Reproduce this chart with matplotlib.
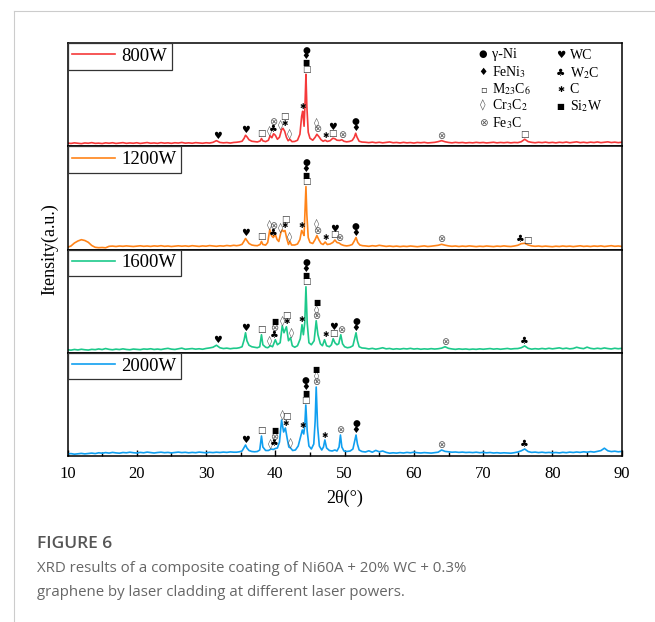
import numpy as np
import matplotlib
matplotlib.use('Agg')
import matplotlib.pyplot as plt
from matplotlib.ticker import MultipleLocator

plt.rcParams['font.family'] = ['Liberation Serif', 'DejaVu Sans']
plt.rcParams['mathtext.fontset'] = 'stix'

labels = ['800W', '1200W', '1600W', '2000W']
colors = ['#f5393a', '#ff8419', '#1dc98b', '#109ff0']

# intensities, 10..34 deg every 0.5 deg
low_800 = [3.2, 2.8, 3.4, 3.0, 2.6, 3.3, 3.0, 3.6, 2.9, 3.1, 2.7, 3.4, 3.0, 3.5, 2.8,
           3.2, 3.6, 2.9, 3.3, 3.0, 3.5, 2.8, 3.2, 3.7, 3.0, 3.3, 2.9, 3.6, 3.1, 3.4,
           2.9, 3.5, 3.2, 3.8, 3.1, 3.4, 3.0, 3.6, 3.3, 3.0, 3.5, 3.2, 3.9, 5.6, 3.8,
           3.4, 3.7, 3.2, 3.8]
low_1200 = [2.2, 3.5, 6.5, 8.5, 9.8, 9.0, 7.2, 4.0, 2.2, 1.8, 2.0, 1.7, 3.2, 3.4, 3.0,
            3.5, 3.2, 3.6, 3.3, 3.0, 3.4, 3.7, 3.2, 3.5, 3.1, 3.6, 3.3, 3.8, 3.2, 3.5,
            3.0, 3.4, 3.7, 3.3, 3.6, 3.2, 3.8, 3.4, 3.1, 3.6, 3.3, 3.9, 3.5, 3.2, 3.7,
            3.4, 4.0, 3.6, 4.2]
low_1600 = [3.0, 2.6, 3.3, 2.8, 3.5, 3.0, 2.7, 3.4, 3.1, 3.8, 3.2, 4.2, 3.4, 3.0, 3.6,
            3.2, 3.9, 3.3, 3.0, 3.7, 3.4, 3.1, 3.8, 3.5, 4.0, 3.3, 3.7, 3.2, 3.9, 4.4,
            3.6, 3.3, 4.0, 4.6, 3.5, 3.8, 4.2, 3.6, 4.0, 3.5, 4.3, 4.8, 5.5, 7.5, 5.0,
            4.2, 4.6, 4.0, 4.5]
low_2000 = [2.0, 2.4, 1.8, 2.2, 2.6, 2.1, 2.5, 2.9, 2.4, 3.2, 2.8, 3.4, 2.9, 3.6, 3.1,
            2.8, 3.5, 3.2, 3.8, 3.3, 3.0, 3.6, 3.2, 3.9, 3.4, 3.0, 3.5, 3.8, 3.3, 3.6,
            3.1, 3.5, 3.9, 3.4, 3.7, 3.2, 3.6, 3.3, 3.9, 3.5, 3.2, 3.7, 3.4, 3.8, 3.5,
            3.9, 3.6, 4.1, 3.8]

# (2theta, intensity) in the peak region
peaks_800 = [(34.4, 4.0), (34.8, 4.4), (35.2, 5.0), (35.5, 8.0), (35.7, 11.0), (35.9, 9.5),
             (36.2, 6.5), (36.6, 5.0), (37.0, 4.6), (37.4, 4.3), (37.8, 5.2), (38.0, 7.7),
             (38.2, 5.4), (38.6, 4.6), (39.0, 6.0), (39.25, 10.5), (39.5, 8.5), (39.75, 12.5),
             (40.0, 11.0), (40.3, 7.0), (40.6, 9.0), (40.9, 16.5), (41.1, 18.0), (41.35, 15.0),
             (41.6, 9.0), (41.85, 5.5), (42.1, 7.0), (42.4, 4.6), (42.8, 4.8), (43.2, 6.0),
             (43.55, 12.0), (43.8, 30.0), (43.95, 35.0), (44.15, 20.0), (44.3, 45.0),
             (44.42, 72.0), (44.55, 40.0), (44.75, 14.0), (45.0, 8.0), (45.4, 6.0),
             (45.75, 9.0), (46.0, 12.0), (46.3, 9.5), (46.6, 6.5), (46.9, 5.0), (47.2, 6.0),
             (47.5, 4.8), (47.9, 5.5), (48.3, 8.0), (48.6, 7.5), (48.9, 6.0), (49.3, 5.8),
             (49.6, 6.5), (49.9, 5.0), (50.3, 4.4), (50.7, 4.8), (51.1, 5.8), (51.4, 9.0),
             (51.6, 13.0), (51.8, 9.0), (52.1, 5.0), (52.5, 4.2)]
peaks_1200 = [(34.4, 3.8), (34.8, 4.2), (35.2, 5.2), (35.5, 8.5), (35.7, 11.0), (35.9, 9.0),
              (36.2, 6.0), (36.6, 4.5), (37.0, 4.0), (37.4, 3.8), (37.8, 5.0), (38.0, 8.0),
              (38.2, 5.0), (38.6, 4.4), (38.9, 7.0), (39.2, 20.0), (39.45, 14.0), (39.7, 12.0),
              (40.0, 15.0), (40.25, 10.0), (40.5, 8.0), (40.8, 17.0), (41.0, 19.5), (41.2, 18.0),
              (41.4, 19.0), (41.65, 11.0), (41.9, 5.0), (42.1, 8.0), (42.35, 4.5), (42.8, 4.5),
              (43.2, 5.5), (43.55, 10.0), (43.8, 19.0), (43.95, 17.0), (44.15, 14.0),
              (44.3, 40.0), (44.42, 63.0), (44.55, 35.0), (44.75, 12.0), (45.0, 7.0),
              (45.4, 6.0), (45.75, 10.0), (46.0, 14.0), (46.3, 9.5), (46.6, 6.0), (46.9, 5.0),
              (47.2, 7.5), (47.5, 5.0), (47.9, 5.5), (48.3, 7.0), (48.6, 9.5), (48.9, 7.0),
              (49.2, 6.5), (49.5, 5.0), (49.9, 4.0), (50.3, 3.6), (50.7, 4.0), (51.1, 5.0),
              (51.4, 8.5), (51.65, 12.0), (51.9, 7.0), (52.2, 4.5), (52.6, 3.8)]
peaks_1600 = [(34.4, 4.5), (34.8, 5.0), (35.2, 6.0), (35.5, 13.0), (35.7, 20.0), (35.9, 12.0),
              (36.2, 7.5), (36.6, 6.0), (37.0, 5.5), (37.4, 5.0), (37.75, 6.0), (38.0, 18.0),
              (38.2, 8.0), (38.6, 5.5), (38.9, 5.0), (39.3, 7.0), (39.6, 6.0), (40.0, 13.0),
              (40.3, 8.0), (40.7, 10.0), (41.0, 27.0), (41.25, 20.0), (41.6, 26.0), (41.9, 12.0),
              (42.2, 15.0), (42.45, 7.0), (42.8, 5.5), (43.2, 7.0), (43.6, 14.0), (43.85, 28.0),
              (44.05, 18.0), (44.25, 30.0), (44.42, 66.0), (44.6, 30.0), (44.85, 10.0),
              (45.2, 8.0), (45.6, 12.0), (45.9, 32.0), (46.15, 18.0), (46.5, 9.0), (46.8, 7.0),
              (47.1, 13.0), (47.4, 7.0), (47.8, 6.0), (48.1, 8.0), (48.35, 14.0), (48.6, 10.0),
              (48.9, 8.0), (49.15, 9.0), (49.45, 18.0), (49.7, 9.0), (50.0, 6.0), (50.4, 5.0),
              (50.8, 5.5), (51.2, 7.0), (51.45, 14.0), (51.65, 20.0), (51.85, 12.0),
              (52.1, 6.0), (52.5, 4.8)]
peaks_2000 = [(34.4, 3.8), (34.8, 4.2), (35.2, 5.0), (35.5, 8.5), (35.7, 11.0), (35.9, 8.0),
              (36.2, 5.5), (36.6, 4.5), (37.0, 4.2), (37.4, 4.5), (37.75, 6.0), (38.0, 20.0),
              (38.2, 9.0), (38.6, 5.5), (39.0, 5.5), (39.4, 7.0), (39.7, 6.5), (40.0, 7.5),
              (40.3, 8.0), (40.6, 14.0), (40.9, 36.0), (41.2, 24.0), (41.45, 28.0), (41.7, 18.0),
              (41.95, 9.0), (42.2, 8.0), (42.5, 5.5), (42.9, 6.0), (43.3, 10.0), (43.6, 18.0),
              (43.9, 26.0), (44.1, 22.0), (44.25, 30.0), (44.4, 51.0), (44.6, 25.0),
              (44.85, 10.0), (45.2, 7.0), (45.55, 12.0), (45.75, 35.0), (45.9, 69.0),
              (46.1, 30.0), (46.35, 10.0), (46.7, 6.0), (46.95, 9.0), (47.15, 16.0), (47.4, 8.0),
              (47.8, 5.5), (48.2, 5.0), (48.6, 6.0), (48.9, 5.0), (49.2, 9.0), (49.4, 21.0),
              (49.6, 9.0), (49.9, 5.0), (50.3, 4.5), (50.8, 5.0), (51.2, 7.0), (51.45, 15.0),
              (51.65, 21.0), (51.85, 12.0), (52.1, 6.0), (52.5, 4.5)]

# intensities, 53..90 deg every 0.5 deg
high_800 = [4.0, 3.6, 4.1, 3.5, 4.0, 3.4, 3.9, 4.3, 3.5, 3.8, 3.3, 3.9, 3.4, 3.7, 3.2,
            3.8, 3.5, 3.9, 3.3, 3.6, 3.9, 4.6, 5.6, 4.5, 3.8, 3.4, 3.9, 3.5, 3.8, 3.3,
            3.7, 3.4, 3.9, 3.5, 3.8, 3.3, 3.6, 4.0, 3.4, 3.8, 3.5, 3.9, 3.4, 3.8, 3.6,
            4.5, 7.0, 4.6, 3.9, 3.5, 4.0, 3.6, 4.1, 3.5, 3.9, 3.4, 4.0, 3.6, 4.2, 3.5,
            3.9, 4.4, 3.6, 4.0, 3.5, 4.1, 3.7, 4.3, 3.6, 4.0, 4.4, 3.7, 4.1, 3.6, 4.0]
high_1200 = [3.6, 3.2, 3.8, 3.4, 4.2, 3.6, 3.1, 3.5, 3.0, 3.4, 2.9, 3.3, 3.0, 3.5, 3.1,
             2.8, 3.2, 3.6, 3.0, 3.3, 3.8, 4.2, 5.2, 4.3, 3.6, 3.2, 3.5, 3.0, 3.4, 3.1,
             3.6, 3.2, 2.9, 3.3, 3.0, 3.5, 3.2, 2.9, 3.4, 3.1, 3.6, 3.2, 3.0, 3.5, 4.2,
             5.8, 6.2, 4.5, 3.6, 3.2, 3.5, 3.0, 3.4, 3.1, 2.8, 3.3, 3.0, 3.5, 3.1, 3.4,
             2.9, 3.3, 3.7, 3.1, 3.4, 3.0, 3.5, 3.2, 3.6, 3.0, 3.4, 3.8, 3.2, 3.5, 3.1]
high_1600 = [4.5, 3.8, 4.4, 3.6, 4.2, 5.0, 3.9, 4.3, 3.5, 4.0, 3.6, 4.2, 3.8, 4.4, 3.7,
             4.1, 3.5, 3.9, 3.6, 4.1, 3.7, 4.0, 4.6, 6.0, 4.4, 3.8, 3.4, 3.9, 3.5, 3.8,
             3.3, 3.7, 3.4, 3.9, 3.5, 3.8, 4.2, 3.6, 4.0, 3.5, 3.9, 4.3, 3.7, 4.1, 4.2,
             5.0, 6.8, 4.4, 3.6, 4.1, 3.7, 4.3, 3.8, 4.5, 3.9, 4.4, 4.9, 4.0, 4.6, 3.9,
             4.3, 5.5, 4.6, 4.1, 5.6, 4.4, 3.9, 4.5, 4.0, 4.8, 4.2, 3.8, 4.5, 4.0, 4.4]
high_2000 = [4.0, 5.2, 3.8, 5.6, 4.2, 5.0, 3.6, 2.8, 3.2, 2.9, 3.4, 3.0, 3.6, 3.2, 3.8,
             3.3, 3.0, 3.4, 3.1, 2.9, 3.3, 3.8, 6.0, 4.6, 4.2, 3.8, 4.0, 3.6, 3.9, 3.5,
             3.7, 3.4, 3.8, 3.3, 3.6, 3.2, 3.5, 3.0, 3.3, 2.9, 3.2, 3.0, 2.8, 3.3, 4.0,
             5.2, 7.0, 4.4, 3.6, 3.9, 3.4, 3.8, 3.3, 3.6, 3.2, 3.5, 3.1, 3.7, 3.3, 3.9,
             3.5, 4.0, 3.6, 4.2, 3.8, 4.4, 3.9, 4.6, 5.4, 7.8, 5.2, 4.4, 4.8, 4.2, 4.6]

# phase marks above peaks, listed bottom -> top
# o gamma-Ni, d FeNi3, s M23C6, z Cr3C2, x Fe3C, h WC, c W2C, * C, S Si2W
ann_800 = [(31.7, 'h'), (35.7, 'h'), (38.0, 's'), (39.2, 'z'), (39.75, 'cx'), (40.8, 'z'),
           (41.3, '*s'), (42.1, 'z'), (43.9, '*'), (44.42, 'sSdo'), (46.0, 'xz'), (47.2, '*'),
           (48.3, 'sh'), (49.6, 'x'), (51.6, 'do'), (64.0, 'x'), (76.0, 's')]
ann_1200 = [(35.7, 'h'), (38.0, 's'), (39.1, 'z'), (39.7, 'cx'), (40.8, 'z'), (41.4, '*s'),
            (42.1, 'z'), (43.85, '*'), (44.42, 'sSdo'), (46.0, 'xz'), (47.2, '*'),
            (48.5, 'sh'), (49.2, 'x'), (51.6, 'do'), (64.0, 'x'), (75.3, 'c'), (76.4, 's')]
ann_1600 = [(31.6, 'h'), (35.7, 'h'), (38.0, 's'), (39.2, 'z'), (39.9, 'cxS'), (41.0, 'z'),
            (41.6, '*s'), (42.3, 'z'), (43.85, '*'), (44.42, 'sSdo'), (45.95, 'xzS'),
            (47.2, '*'), (48.4, 'sh'), (49.45, 'x'), (51.65, 'do'), (64.5, 'x'), (76.0, 'c')]
ann_2000 = [(35.7, 'h'), (38.0, 's'), (39.25, 'z'), (39.9, 'cxS'), (41.0, 'z'), (41.55, '*s'),
            (42.2, 'z'), (43.9, '*'), (44.4, 'sSdo'), (45.9, 'xzS'), (47.15, '*'),
            (49.4, 'x'), (51.65, 'do'), (64.0, 'x'), (76.0, 'c')]

lows = [low_800, low_1200, low_1600, low_2000]
peaks = [peaks_800, peaks_1200, peaks_1600, peaks_2000]
highs = [high_800, high_1200, high_1600, high_2000]
anns = [ann_800, ann_1200, ann_1600, ann_2000]

legend_left = [('o', 'γ-Ni'), ('d', r'FeNi$_3$'), ('s', r'M$_{23}$C$_6$'),
               ('z', r'Cr$_3$C$_2$'), ('x', r'Fe$_3$C')]
legend_right = [('h', 'WC'), ('c', r'W$_2$C'), ('*', 'C'), ('S', r'Si$_2$W')]

SYM = {'o': ('●', 'black', 6.5), 'd': ('♦', 'black', 7.0), 's': ('□', '#333333', 6.5),
       'z': ('◊', '#555555', 7.5), 'x': ('⊗', '#555555', 7.0), 'h': ('♥', 'black', 7.0),
       'c': ('♣', 'black', 7.0), '*': ('✱', 'black', 5.5), 'S': ('■', 'black', 5.5)}


def build(low, pk, high):
    xl = 10 + 0.5 * np.arange(len(low))
    xh = 53 + 0.5 * np.arange(len(high))
    px, py = zip(*pk)
    return np.concatenate([xl, px, xh]), np.concatenate([low, py, high])


W, H = 655, 622
fig = plt.figure(figsize=(W / 100, H / 100), dpi=100)

# page frame
fig.add_artist(plt.Line2D([14 / W, 14 / W], [0, 1 - 11 / H], color='#cccccc', lw=0.8))
fig.add_artist(plt.Line2D([14 / W, 1], [1 - 11 / H, 1 - 11 / H], color='#cccccc', lw=0.8))

left, right, top, bottom = 67.5, 621.7, 43, 456
ph = (bottom - top) / 4
axes = []
for i in range(4):
    ax = fig.add_axes([left / W, 1 - (top + (i + 1) * ph) / H, (right - left) / W, ph / H])
    x, y = build(lows[i], peaks[i], highs[i])
    ax.plot(x, y, color=colors[i], lw=1.2, label=labels[i])
    ax.set_xlim(10, 90)
    ax.set_ylim(0, ph)
    ax.set_yticks([])
    for s in ax.spines.values():
        s.set_linewidth(1.1)
    lg = ax.legend(loc='upper left', borderaxespad=0, fancybox=False, framealpha=1,
                   edgecolor='#333333', handlelength=2.3, handletextpad=0.3,
                   borderpad=0.25, prop={'family': 'Liberation Serif', 'size': 13.5})
    lg.get_frame().set_linewidth(0.9)
    for th, codes in anns[i]:
        m = np.abs(x - th) <= 0.2
        base = (y[m].max() if m.any() else np.interp(th, x, y)) + 5
        for k, c in enumerate(codes):
            ch, col, fs = SYM[c]
            ax.text(th, base + k * 6.4, ch, ha='center', va='center', fontsize=fs,
                    color=col, family='DejaVu Sans')
    if i < 3:
        ax.tick_params(axis='x', bottom=False, labelbottom=False)
    else:
        ax.xaxis.set_major_locator(MultipleLocator(10))
        ax.xaxis.set_minor_locator(MultipleLocator(5))
        ax.tick_params(axis='x', which='major', direction='in', length=4, width=1,
                       labelsize=12, pad=7)
        ax.tick_params(axis='x', which='minor', direction='in', length=3, width=1)
    axes.append(ax)

# phase key in the top panel
ax0 = axes[0]
for items, sx, tx, rows in [(legend_left, 483, 492, [54, 71.7, 89, 105, 123.3]),
                            (legend_right, 560.5, 569.5, [55, 72.7, 89.3, 106])]:
    for (c, name), ry in zip(items, rows):
        ch, colr, fs = SYM[c]
        if c == 's':
            ch = '▫'
        ax0.text((sx - left) / (right - left), (top + ph - ry) / ph, ch, transform=ax0.transAxes,
                 ha='center', va='center', fontsize=fs + 0.5, color=colr, family='DejaVu Sans')
        ax0.text((tx - left) / (right - left), (top + ph - ry - 4) / ph, name,
                 transform=ax0.transAxes, ha='left', va='baseline', fontsize=10,
                 family='Liberation Serif')

fig.text(50 / W, 1 - 249.5 / H, 'Itensity(a.u.)', rotation=90, ha='center', va='center',
         fontsize=13, family='Liberation Serif')
fig.text((left + right) / 2 / W, 1 - 498 / H, '2θ(°)', ha='center', va='center',
         fontsize=13, family='Liberation Serif')

fig.text(37 / W, 1 - 544 / H, 'FIGURE 6', ha='left', va='center', fontsize=12.5,
         color='#555555', family='Open Sans', fontweight='semibold')
fig.text(37 / W, 1 - 568 / H, 'XRD results of a composite coating of Ni60A + 20% WC + 0.3%',
         ha='left', va='center', fontsize=10.8, color='#666666', family='Open Sans')
fig.text(37 / W, 1 - 592 / H, 'graphene by laser cladding at different laser powers.',
         ha='left', va='center', fontsize=10.8, color='#666666', family='Open Sans')

fig.savefig('out.png', dpi=100)
